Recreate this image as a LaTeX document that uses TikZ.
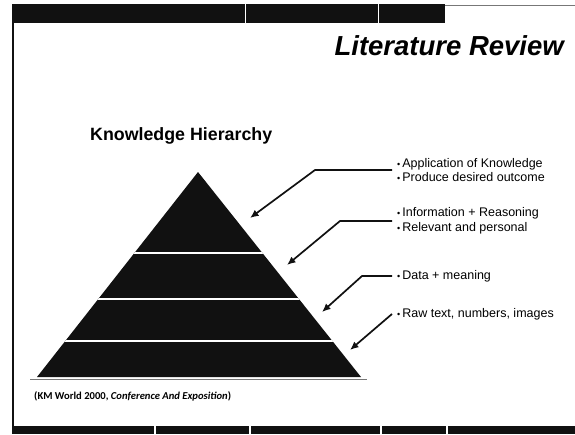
\documentclass[tikz,border=0pt]{standalone}
\usepackage{fontspec}
\setmainfont{Liberation Sans}
\newfontfamily\citefont{Carlito}
\usetikzlibrary{arrows.meta,calc}
\definecolor{scan}{HTML}{111111}
\definecolor{rule}{HTML}{777777}
\newcommand{\bul}{{\fontsize{9}{9}\selectfont\textbullet}\hspace{2pt}}
\tikzset{
  bar/.style={fill=scan, draw=none},
  sep/.style={draw=white, line width=1.6pt},
  note/.style={anchor=west, align=left, inner sep=0pt, font=\fontsize{12.5}{14.8}\selectfont},
  pointer/.style={-{Latex[length=3mm,width=2.6mm]}, line width=1.7pt, draw=scan}
}

\begin{document}
\begin{tikzpicture}[x=1pt,y=-1pt]
\useasboundingbox (0,0) rectangle (575,434);
% frame of the slide
\fill[bar] (12,4) rectangle (445,23);
\fill[bar] (12,426) rectangle (575,434);
\draw[white, line width=1pt] (245,4) -- (245,23) (378,4) -- (378,23);
\draw[white, line width=1.5pt] (155,426) -- (155,434) (250,426) -- (250,434)
  (381,426) -- (381,434) (447,426) -- (447,434);
\draw[scan, line width=2pt] (13,4) -- (13,434);
\draw[rule, line width=0.8pt] (445,5) -- (575,5);

\node[anchor=base east, inner sep=0pt, font=\bfseries\itshape\fontsize{27.5}{32}\selectfont] (title) at (564,55) {Literature Review};
\node[anchor=base west, inner sep=0pt, font=\bfseries\fontsize{17.8}{21}\selectfont] (head) at (90,140) {Knowledge Hierarchy};

% pyramid
\coordinate (apex) at (198,172);
\coordinate (bl) at (37,377);
\coordinate (br) at (361,377);
\fill[scan] (apex) -- (br) -- (bl) -- cycle;
\begin{scope}
  \clip (apex) -- (br) -- (bl) -- cycle;
  \foreach \yy in {253,299,341}
    \draw[sep] (30,\yy) -- (370,\yy);
\end{scope}
\draw[rule, line width=0.6pt] (30,379) -- (367,379);

% labels
\node[note] (app) at (397,170) {\bul Application of Knowledge\\\bul Produce desired outcome};
\node[note] (inf) at (397,221) {\bul Information + Reasoning\\\bul Relevant and personal};
\node[note] (dat) at (397,276) {\bul Data + meaning};
\node[note] (raw) at (397,314) {\bul Raw text, numbers, images};

\coordinate (k1) at (315,170);
\coordinate (t1) at (250,218);
\coordinate (k2) at (340,221);
\coordinate (t2) at (287,265);
\coordinate (k3) at (362,276);
\coordinate (t3) at (322,312);
\coordinate (t4) at (350,350);
\draw[pointer] ([xshift=-5pt]app.west) -- (k1) -- (t1);
\draw[pointer] ([xshift=-5pt]inf.west) -- (k2) -- (t2);
\draw[pointer] ([xshift=-5pt]dat.west) -- (k3) -- (t3);
\draw[pointer] ([xshift=-5pt]raw.west) -- (t4);

\node[anchor=base west, inner sep=0pt, font=\citefont\bfseries\fontsize{10.6}{12}\selectfont] (src) at (34,399) {(KM World 2000, \textit{Conference And Exposition})};
\end{tikzpicture}
\end{document}
